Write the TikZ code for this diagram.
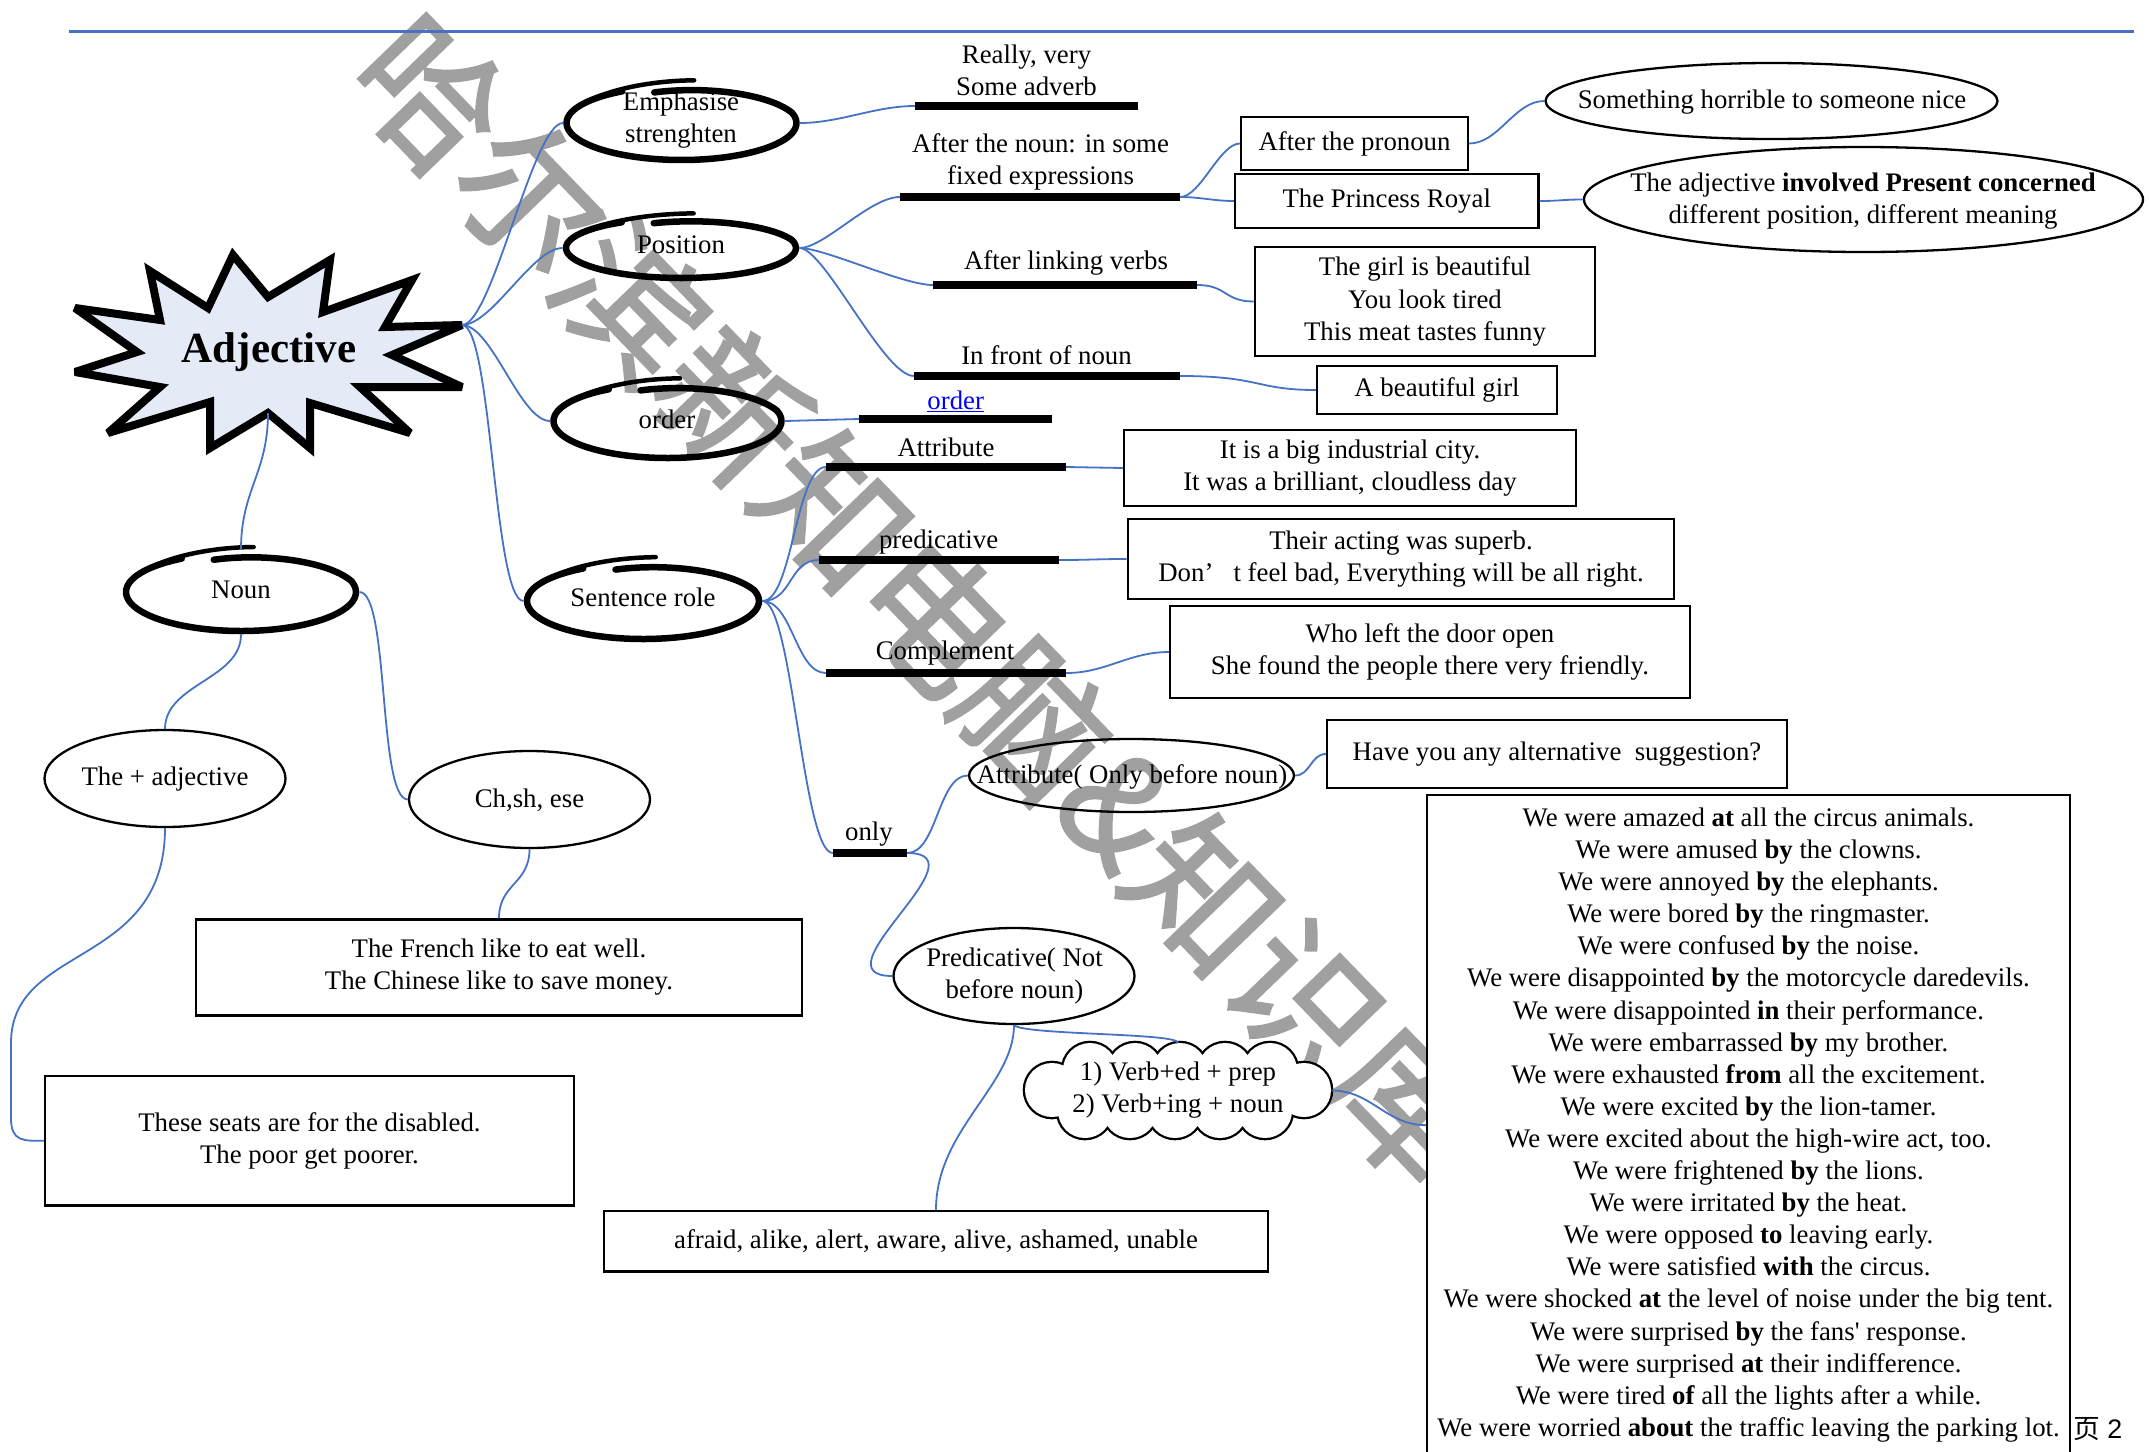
\documentclass[tikz,border=0pt]{standalone}
\usepackage{fontspec}
\setmainfont{Liberation Serif}
\setsansfont{Liberation Sans}
\newfontfamily\cjk{Noto Sans CJK SC}
\newfontfamily\cjkwm[FakeBold=1.5]{Noto Sans CJK SC}
\usetikzlibrary{shapes.geometric}
\definecolor{cblue}{RGB}{68,114,196}
\definecolor{starfill}{RGB}{228,235,247}
\definecolor{wmgray}{RGB}{160,160,160}
\definecolor{linkblue}{RGB}{0,0,255}
\newcommand\myfs{\fontsize{26.8}{32.1}\selectfont}
\newcommand\sq{{\addfontfeatures{Ligatures=TeXOff}'}}
\newcommand\handell[4]{%
  \draw[line width=6.5pt, line cap=round, line join=round]
    plot[smooth, samples=70, domain=0:345, variable=\myang]
    ({#1+#3*(0.86+0.14*min(\myang/90,1))*cos(106-\myang)},
     {#2-#4*(0.86+0.14*min(\myang/90,1))*sin(106-\myang)});
  \draw[line width=4.5pt, line cap=round]
    plot[smooth, samples=20, domain=320:382, variable=\myang]
    ({#1+#3*(1+0.05*(\myang-320)/62)*cos(106-\myang)},
     {#2-#4*(1+0.16*(\myang-320)/62)*sin(106-\myang)});
}
\begin{document}
\begin{tikzpicture}[x=1pt,y=-1pt,
  conn/.style={draw=cblue, line width=1.8pt},
  bar/.style={fill=black, inner sep=0pt, minimum height=8pt},
  box/.style={draw, line width=2.3pt, inner sep=0pt, align=center, font=\myfs},
  ell/.style={draw, ellipse, line width=2.3pt, inner sep=0pt},
  hell/.style={ellipse, inner sep=0pt},
  lbl/.style={align=center, font=\myfs, inner sep=0pt}]
\fill[white] (0,0) rectangle (2149,1451);
\useasboundingbox (0,0) rectangle (2149,1451);

% watermark
\node[rotate=-46, anchor=base west, text=wmgray, inner sep=0pt,
      font=\cjkwm\fontsize{145}{150}\selectfont] (wm) at (341,80) {哈尔滨新知电脑\&知识库};

% top rule
\draw[cblue, line width=3pt] (68.5,31.5) -- (2134,31.5);

% big box
\node[draw, line width=2.3pt, fill=white, minimum width=643pt, minimum height=660pt,
      anchor=north, inner sep=0pt] (big) at (1748.5,794) {};
\node[lbl] (bigtxt) at (1748.5,1125) {We were amazed \textbf{at} all the circus animals.\\
We were amused \textbf{by} the clowns.\\
We were annoyed \textbf{by} the elephants.\\
We were bored \textbf{by} the ringmaster.\\
We were confused \textbf{by} the noise.\\
We were disappointed \textbf{by} the motorcycle daredevils.\\
We were disappointed \textbf{in} their performance.\\
We were embarrassed \textbf{by} my brother.\\
We were exhausted \textbf{from} all the excitement.\\
We were excited \textbf{by} the lion-tamer.\\
We were excited about the high-wire act, too.\\
We were frightened \textbf{by} the lions.\\
We were irritated \textbf{by} the heat.\\
We were opposed \textbf{to} leaving early.\\
We were satisfied \textbf{with} the circus.\\
We were shocked \textbf{at} the level of noise under the big tent.\\
We were surprised \textbf{by} the fans\sq{} response.\\
We were surprised \textbf{at} their indifference.\\
We were tired \textbf{of} all the lights after a while.\\
We were worried \textbf{about} the traffic leaving the parking lot.};
\node[lbl] (page) at (2098,1429) {{\cjk 页} {\sffamily 2}};

% star
\draw[line width=8pt, fill=starfill, line join=miter, miter limit=4]
 (75,308) -- (160,320) -- (150,271) -- (208,308) -- (233,255) -- (268,297) -- (330,260)
 -- (323,312) -- (412,280) -- (385,327) -- (462,325) -- (392,355) -- (462,387) -- (360,387)
 -- (410,433) -- (310,403) -- (310,448) -- (268,413) -- (210,448) -- (210,402) -- (108,433)
 -- (160,387) -- (75,372) -- (137,352) -- cycle;
\node[inner sep=0pt, font=\bfseries\fontsize{43}{50}\selectfont] (adj) at (269,352) {Adjective};
\coordinate (adjR) at (462,325);
\coordinate (adjB) at (268,413);

% hand-drawn ellipses
\node[hell, minimum width=236.5pt, minimum height=80.5pt] (emph) at (681.5,123) {};
\handell{681.5}{123}{115}{37}
\node[lbl] (temph) at (681,120) {Emphasise\\strenghten};
\node[hell, minimum width=236.5pt, minimum height=66.5pt] (pos) at (681,248) {};
\handell{681}{248}{115}{30}
\node[lbl] (tpos) at (681,245) {Position};
\node[hell, minimum width=234.5pt, minimum height=80.5pt] (ord) at (667.5,421) {};
\handell{667.5}{421}{114}{37}
\node[lbl] (tord) at (667,419) {order};
\node[hell, minimum width=238.5pt, minimum height=82.5pt] (sent) at (643,601) {};
\handell{643}{601}{116}{38}
\node[lbl] (tsent) at (643,597) {Sentence role};
\node[hell, minimum width=236.5pt, minimum height=84.5pt] (noun) at (241,592) {};
\handell{241}{592}{115}{39}
\node[lbl] (tnoun) at (241,590) {Noun};

% bars
\node[bar, minimum width=223pt] (b_emph) at (1026.5,106) {};
\node[bar, minimum width=280pt] (b_noun) at (1040,197) {};
\node[bar, minimum width=264pt] (b_link) at (1065,285) {};
\node[bar, minimum width=266pt] (b_front) at (1047,376) {};
\node[bar, minimum width=193pt] (b_order) at (955.5,419) {};
\node[bar, minimum width=240pt] (b_attr) at (946,467) {};
\node[bar, minimum width=240pt] (b_pred) at (939,560) {};
\node[bar, minimum width=240pt] (b_comp) at (946,673) {};
\node[bar, minimum width=74pt] (b_only) at (870,853) {};

% bar labels
\node[lbl] (t_emph) at (1026.5,70) {Really, very\\Some adverb};
\node[lbl] (t_noun) at (1040.5,162) {After the noun: in some\\fixed expressions};
\node[lbl] (t_link) at (1066,263) {After linking verbs};
\node[lbl] (t_front) at (1046.5,355) {In front of noun};
\node[lbl, text=linkblue] (t_order) at (955.7,401) {\underline{order}};
\node[lbl] (t_attr) at (946,447) {Attribute};
\node[lbl] (t_pred) at (938.6,542) {predicative};
\node[lbl] (t_comp) at (945,653) {Complement};
\node[lbl] (t_only) at (869,834) {only};

% boxes
\node[box, minimum width=227pt, minimum height=53pt] (pron) at (1354.5,143.5) {After the pronoun};
\node[box, minimum width=303.5pt, minimum height=54pt] (princess) at (1386.75,201) {The Princess Royal};
\node[box, minimum width=340pt, minimum height=109pt] (girl) at (1425,301.5) {The girl is beautiful\\You look tired\\This meat tastes funny};
\node[box, minimum width=240pt, minimum height=48pt] (abg) at (1437,390) {A beautiful girl};
\node[box, minimum width=452pt, minimum height=76pt] (city) at (1350,468) {It is a big industrial city.\\It was a brilliant, cloudless day};
\node[box, minimum width=546.5pt, minimum height=80pt] (act) at (1401,559) {Their acting was superb.\\Don’\hspace{0.75em}t feel bad, Everything will be all right.};
\node[box, minimum width=520pt, minimum height=92pt] (door) at (1430,652) {Who left the door open\\She found the people there very friendly.};
\node[box, minimum width=460pt, minimum height=68pt] (have) at (1557,754) {Have you any alternative\ \ suggestion?};
\node[box, minimum width=606pt, minimum height=96pt] (french) at (499,967.5) {The French like to eat well.\\The Chinese like to save money.};
\node[box, minimum width=529pt, minimum height=129.5pt] (seats) at (309.5,1140.75) {These seats are for the disabled.\\The poor get poorer.};
\node[box, minimum width=663.5pt, minimum height=60.7pt] (afraid) at (936,1241.25) {afraid, alike, alert, aware, alive, ashamed, unable};

% thin ellipses
\node[ell, minimum width=452pt, minimum height=76pt] (horrible) at (1771.5,101) {};
\node[lbl] (thorrible) at (1772,102) {Something horrible to someone nice};
\node[ell, minimum width=559pt, minimum height=105pt] (involved) at (1863.5,199.5) {};
\node[lbl] (tinvolved) at (1863,201) {The adjective \textbf{involved Present concerned}\\different position, different meaning};
\node[ell, minimum width=241pt, minimum height=97pt] (theadj) at (165,778.5) {};
\node[lbl] (ttheadj) at (165,779) {The + adjective};
\node[ell, minimum width=241pt, minimum height=97pt] (chsh) at (529.5,799.5) {};
\node[lbl] (tchsh) at (529.5,800) {Ch,sh, ese};
\node[ell, minimum width=325pt, minimum height=73pt] (attrO) at (1131.5,775.5) {};
\node[lbl] (tattrO) at (1132,777) {Attribute( Only before noun)};
\node[ell, minimum width=241pt, minimum height=96pt] (predN) at (1014,976) {};
\node[lbl] (tpredN) at (1014.5,976) {Predicative( Not\\before noun)};

% cloud (drawn from puffs)
\foreach \p in {(1052,1090),(1090,1070),(1135,1070),(1180,1070),(1225,1070),(1270,1070),
                (1304,1090),(1265,1111),(1220,1111),(1175,1111),(1130,1111),(1085,1111)}
  \draw[line width=4.6pt] \p circle (27);
\fill[white] (1052,1090) -- (1090,1070) -- (1270,1070) -- (1304,1090) -- (1265,1111) -- (1085,1111) -- cycle;
\foreach \p in {(1052,1090),(1090,1070),(1135,1070),(1180,1070),(1225,1070),(1270,1070),
                (1304,1090),(1265,1111),(1220,1111),(1175,1111),(1130,1111),(1085,1111)}
  \fill[white] \p circle (27);
\node[inner sep=0pt, minimum width=307pt, minimum height=95pt] (cld) at (1178,1090.5) {};
\node[lbl] (tcld) at (1178,1090) {1) Verb+ed + prep\\2) Verb+ing + noun};

% connectors
\draw[conn] (adjR) .. controls +(30,0) and +(-30,0) .. (emph.west);
\draw[conn] (adjR) .. controls +(30,0) and +(-30,0) .. (pos.west);
\draw[conn] (adjR) .. controls +(30,0) and +(-30,0) .. (ord.west);
\draw[conn] (adjR) .. controls +(30,0) and +(-30,0) .. (sent.west);
\draw[conn] (adjB) .. controls +(0,60) and +(0,-60) .. (noun.north);
\draw[conn] (emph.east) .. controls +(40,0) and +(-40,0) .. (b_emph.west);
\draw[conn] (pos.east) .. controls +(25,0) and +(-30,0) .. (b_noun.west);
\draw[conn] (pos.east) .. controls +(25,0) and +(-30,0) .. (b_link.west);
\draw[conn] (pos.east) .. controls +(25,0) and +(-30,0) .. (b_front.west);
\draw[conn] (ord.east) -- (b_order.west);
\draw[conn] (sent.east) .. controls +(30,0) and +(-30,0) .. (b_attr.west);
\draw[conn] (sent.east) .. controls +(30,0) and +(-30,0) .. (b_pred.west);
\draw[conn] (sent.east) .. controls +(30,0) and +(-30,0) .. (b_comp.west);
\draw[conn] (sent.east) .. controls +(30,0) and +(-30,0) .. (b_only.west);
\draw[conn] (b_noun.east) .. controls +(20,0) and +(-20,0) .. (pron.west);
\draw[conn] (b_noun.east) .. controls +(20,0) and +(-20,0) .. (princess.west);
\draw[conn] (pron.east) .. controls +(30,0) and +(-30,0) .. (horrible.west);
\draw[conn] (princess.east) .. controls +(20,0) and +(-20,0) .. (involved.west);
\draw[conn] (b_link.east) .. controls +(30,0) and +(-30,0) .. (girl.west);
\draw[conn] (b_front.east) .. controls +(80,0) and +(-60,0) .. (abg.west);
\draw[conn] (b_attr.east) -- (city.west);
\draw[conn] (b_pred.east) .. controls +(30,0) and +(-30,0) .. (act.west);
\draw[conn] (b_comp.east) .. controls +(40,0) and +(-40,0) .. (door.west);
\draw[conn] (b_only.east) .. controls +(30,0) and +(-30,0) .. (attrO.west);
\draw[conn] (b_only.east) .. controls +(80,0) and +(-80,0) .. (predN.west);
\draw[conn] (attrO.east) .. controls +(15,0) and +(-15,0) .. (have.west);
\draw[conn] (predN.south) .. controls +(10,10) and +(0,-10) .. (cld.north);
\draw[conn] (predN.south) .. controls +(0,60) and +(0,-80) .. (afraid.north);
\draw[conn] (cld.east) .. controls +(40,0) and +(-40,0) .. (big.west);
\draw[conn] (noun.south) .. controls +(0,45) and +(0,-45) .. (theadj.north);
\draw[conn] (noun.east) .. controls +(30,0) and +(-30,0) .. (chsh.west);
\draw[conn] (chsh.south) .. controls +(0,35) and +(0,-35) .. (french.north);
\draw[conn] (theadj.south) .. controls +(0,140) and +(0,-100) .. ++(-154,215) -- ++(0,75)
   .. controls +(0,24) and +(-20,0) .. (seats.west);
\end{tikzpicture}
\end{document}
